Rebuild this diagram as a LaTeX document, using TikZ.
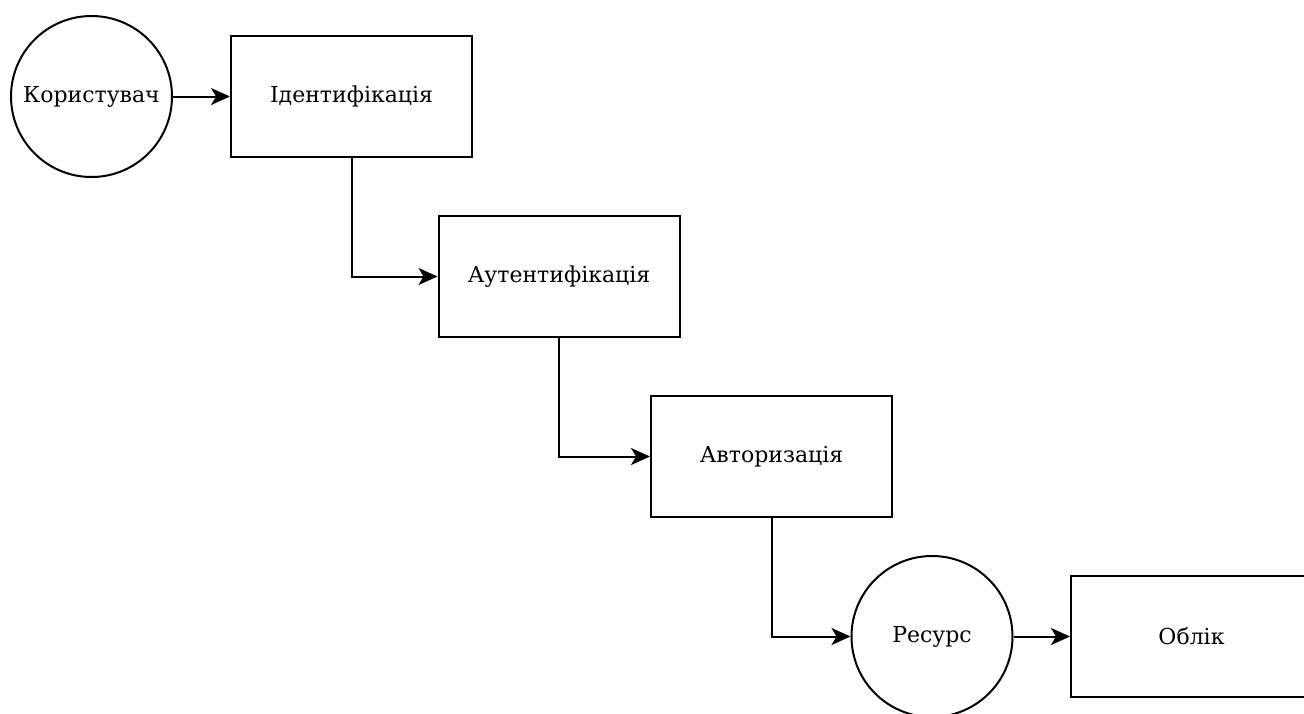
\documentclass[tikz,border=0pt]{standalone}
\usepackage{fontspec}
\setmainfont{DejaVu Serif}
\usetikzlibrary{arrows.meta}
\begin{document}
\begin{tikzpicture}[x=1pt,y=-1pt,
  stage/.style={draw, line width=2pt, rectangle, minimum width=241pt, minimum height=121pt,
    inner sep=0pt, font=\fontsize{22}{26}\selectfont},
  endpoint/.style={draw, line width=2pt, circle, minimum size=161pt, inner sep=0pt,
    font=\fontsize{22}{26}\selectfont},
  flow/.style={line width=2pt, -{Stealth[length=19pt,width=17pt,inset=5pt]}}]
  \useasboundingbox (0,0) rectangle (1304,713);
  \clip (0,0) rectangle (1304,713);

  \node[endpoint] (user) at (91.5,96.5) {Користувач};
  \node[stage] (ident) at (351.5,96.5) {Ідентифікація};
  \node[stage] (auth) at (559,276.5) {Аутентифікація};
  \node[stage] (authz) at (771.5,456.5) {Авторизація};
  \node[endpoint] (res) at (932,636.5) {Ресурс};
  \node[stage] (log) at (1191.5,636.5) {Облік};

  \draw[flow] (user.east) -- (ident.west);
  \draw[flow] (ident.south) |- (auth.west);
  \draw[flow] (auth.south) |- (authz.west);
  \draw[flow] (authz.south) |- (res.west);
  \draw[flow] (res.east) -- (log.west);
\end{tikzpicture}
\end{document}
